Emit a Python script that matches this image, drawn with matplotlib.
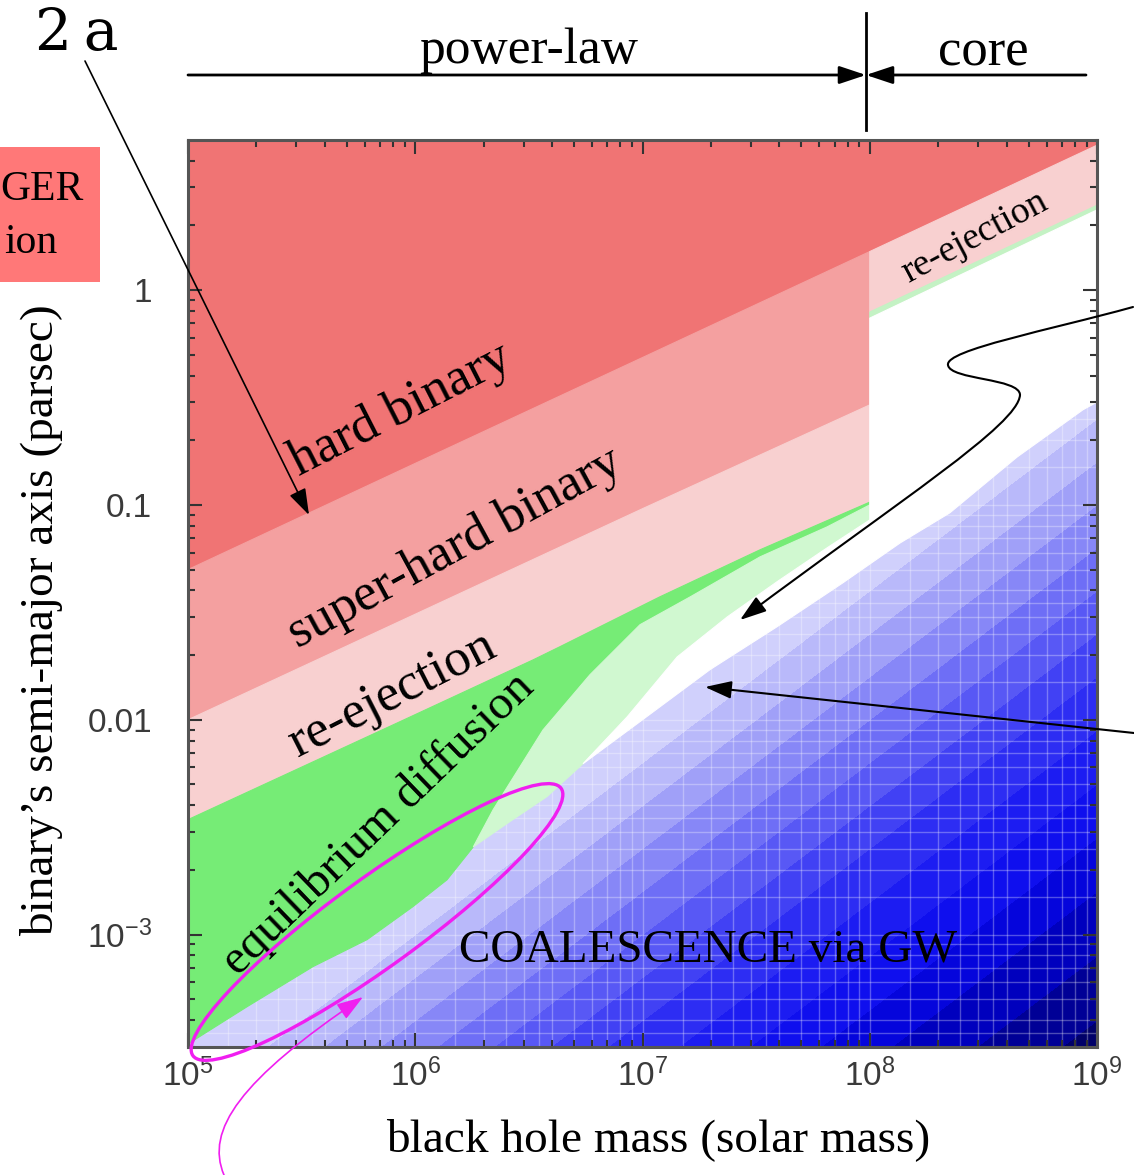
import numpy as np
import matplotlib
matplotlib.use('Agg')
import matplotlib.pyplot as plt
from matplotlib.patches import Ellipse, Rectangle, FancyArrowPatch
from matplotlib.path import Path
from matplotlib.ticker import FixedLocator, FixedFormatter, LogLocator, NullFormatter

plt.rcParams['mathtext.fontset'] = 'custom'
plt.rcParams['mathtext.rm'] = 'Liberation Sans'

# region boundaries (black hole mass in Msun, separation in pc)
hard_m = [1e5, 1e6, 1e7, 1e8, 1e9]
hard_a = [0.050, 0.156, 0.485, 1.51, 4.72]

superhard_m = [1e5, 1e6, 1e7, 1e8]
superhard_a = [0.0100, 0.031, 0.096, 0.292]

reej_m = [1e5, 8.57e5, 3.30e6, 4.34e6, 1.19e7, 3.29e7, 1e8]
reej_a = [0.00343, 0.0098, 0.0190, 0.0219, 0.0373, 0.0618, 0.103]

equil_m = [1e5, 1.82e5, 3.55e5, 6.14e5, 9.77e5, 1.38e6, 1.80e6, 2.20e6,
           2.61e6, 3.65e6, 5.87e6, 9.75e6, 1.62e7, 3.29e7, 6.49e7, 1e8]
equil_a = [0.00031, 0.000462, 0.000710, 0.000948, 0.00135, 0.00180, 0.00256, 0.00381,
           0.00509, 0.00897, 0.0162, 0.0277, 0.0373, 0.0573, 0.079, 0.100]

pale_m = [1.80e6, 2.61e6, 3.80e6, 5.47e6, 8.55e6, 1.42e7, 2.36e7, 3.91e7, 6.49e7, 1e8]
pale_a = [0.00256, 0.00336, 0.00439, 0.00624, 0.0103, 0.0196, 0.0301, 0.0439, 0.0631, 0.0851]

gw_m = [5.47e6, 1.0e7, 1.98e7, 3.91e7, 7.62e7, 1.36e8, 2.25e8, 4.45e8, 8.67e8, 1e9]
gw_a = [0.00624, 0.0100, 0.0171, 0.0271, 0.0434, 0.0665, 0.0918, 0.167, 0.277, 0.301]

core_m = [1e8, 1e9]
core_reej_a = [0.79, 2.48]
core_strip_a = [0.74, 2.36]

# coalescence-time shading (log a - slope * log M)
blue_slope = 0.8
blue_levels = [-11.0, -10.6, -10.3, -10.0, -9.75, -9.5, -9.25, -9.0, -8.8,
               -8.6, -8.4, -8.2, -8.0, -7.8, 0.0]
blue_colors = ['#000069', '#000096', '#0000be', '#0505dc', '#0f0fee', '#1c1cf2',
               '#2d2df3', '#4141f4', '#5858f5', '#6e6ef6', '#8787f7', '#a0a0f8',
               '#b9b9fa', '#d0d0fc']

x_ticks = [1e5, 1e6, 1e7, 1e8, 1e9]
x_labels = ['$\\mathregular{10^{5}}$', '$\\mathregular{10^{6}}$', '$\\mathregular{10^{7}}$',
            '$\\mathregular{10^{8}}$', '$\\mathregular{10^{9}}$']
y_ticks = [1e-3, 1e-2, 0.1, 1]
y_labels = ['$\\mathregular{10^{-3}}$', '0.01', '0.1', '1']

c_hard = '#f07474'
c_super = '#f4a0a0'
c_reej = '#f8d0d0'
c_green = '#76ec76'
c_pale = '#d0f8d0'
serif = 'Liberation Serif'

fig = plt.figure(figsize=(11.34, 11.75), dpi=100)
ax = fig.add_axes([188/1134, 1-1047/1175, 909/1134, 907/1175])
ax.set_xscale('log')
ax.set_yscale('log')

mm, aa = np.meshgrid(np.logspace(5, 9, 400), np.logspace(-3.6, 0.8, 400))
zz = np.log10(aa) - blue_slope*np.log10(mm)
ax.contourf(mm, aa, zz, levels=blue_levels, colors=blue_colors, zorder=0)

# faint white grid that shows through in the blue part
for k in range(5, 9):
    for d in (1, 1.5, 2, 2.5, 3, 3.5, 4, 5, 6, 7, 8, 9):
        ax.axvline(d*10**k, color='white', lw=1, alpha=0.3, zorder=0.5)
for k in range(-4, 1):
    for d in (1, 1.5, 2, 2.5, 3, 3.5, 4, 5, 6, 7, 8, 9):
        ax.axhline(d*10**k, color='white', lw=1, alpha=0.3, zorder=0.5)

def region(xs, ys, c):
    ax.fill(xs, ys, color=c, lw=0.8, ec=c, zorder=1)

ax.fill_between(hard_m, hard_a, 10, color=c_hard, lw=0.8, ec=c_hard, zorder=1)
region(hard_m[:4] + superhard_m[::-1], hard_a[:4] + superhard_a[::-1], c_super)
region(superhard_m + reej_m[::-1], superhard_a + reej_a[::-1], c_reej)
region(hard_m[3:] + core_m[::-1], hard_a[3:] + core_reej_a[::-1], c_reej)
region(core_m + core_m[::-1], core_reej_a + core_strip_a[::-1], '#c4f2c4')
region(reej_m + equil_m[::-1], reej_a + equil_a[::-1], c_green)
region(equil_m[6:] + pale_m[::-1], equil_a[6:] + pale_a[::-1], c_pale)
region(pale_m[3:] + core_m + gw_m[::-1], pale_a[3:] + core_strip_a + gw_a[::-1], 'white')

ax.set_xlim(1e5, 1e9)
ax.set_ylim(3.0e-4, 4.99)

ax.xaxis.set_major_locator(FixedLocator(x_ticks))
ax.xaxis.set_major_formatter(FixedFormatter(x_labels))
ax.yaxis.set_major_locator(FixedLocator(y_ticks))
ax.yaxis.set_major_formatter(FixedFormatter(y_labels))
ax.xaxis.set_minor_locator(LogLocator(base=10, subs=np.arange(2, 10)))
ax.yaxis.set_minor_locator(LogLocator(base=10, subs=np.arange(2, 10)))
ax.xaxis.set_minor_formatter(NullFormatter())
ax.yaxis.set_minor_formatter(NullFormatter())
ax.tick_params(which='both', direction='in', top=True, right=True, color='#333333', width=1.5)
ax.tick_params(which='major', length=10)
ax.tick_params(which='minor', length=5)
ax.tick_params(axis='x', pad=8, labelsize=24, labelcolor='#3a3a3a')
ax.tick_params(axis='y', pad=26, labelsize=24, labelcolor='#3a3a3a')
for lab in ax.get_xticklabels() + ax.get_yticklabels():
    lab.set_family('Liberation Sans')
for s in ax.spines.values():
    s.set_color('#555555')
    s.set_linewidth(2.2)
    s.set_zorder(4)

ax.set_xlabel('black hole mass (solar mass)', family=serif, size=34, va='center')
ax.xaxis.set_label_coords(0.517, -0.1025)
ax.set_ylabel('binary\u2019s semi-major axis (parsec)', family=serif, size=34, va='center')
ax.yaxis.set_label_coords(-0.1606, 0.4708)

# region names
ax.text(8.6e5, 0.277, 'hard binary', family=serif, size=38, rotation=27,
        ha='center', va='center', zorder=3)
ax.text(1.5e6, 0.063, 'super-hard binary', family=serif, size=38, rotation=28.5,
        ha='center', va='center', zorder=3)
ax.text(7.9e5, 0.0131, 're-ejection', family=serif, size=38, rotation=27,
        ha='center', va='center', zorder=3)
ax.text(6.9e5, 0.00325, 'equilibrium diffusion', family=serif, size=35, rotation=44,
        ha='center', va='center', zorder=3)
ax.text(2.9e8, 1.77, 're-ejection', family=serif, size=27, rotation=28,
        ha='center', va='center', zorder=3)
ax.text(1.94e7, 8.5e-4, 'COALESCENCE via GW', family=serif, size=34,
        ha='center', va='center', zorder=3)

# annotation layer in pixel units
ov = fig.add_axes([0, 0, 1, 1], zorder=10)
ov.set_xlim(0, 1134)
ov.set_ylim(1175, 0)
ov.axis('off')

ov.add_patch(Rectangle((0, 147), 100, 135, fc='#ff7878', ec='none'))
ov.text(84, 200, 'GER', family=serif, size=30, ha='right', va='baseline')
ov.text(57, 253, 'ion', family=serif, size=30, ha='right', va='baseline')

ov.text(35, 50, '2\u2009a', family='DejaVu Serif', size=42, ha='left', va='baseline')
head = '-|>,head_length=0.6,head_width=0.2'
ov.annotate('', xy=(309, 515), xytext=(85, 61),
            arrowprops=dict(arrowstyle=head, lw=1.2, color='k', shrinkA=0, shrinkB=0,
                            mutation_scale=27))

ov.plot([866, 866], [13, 130], color='k', lw=2)
ov.annotate('', xy=(866, 75), xytext=(188, 75),
            arrowprops=dict(arrowstyle=head, lw=2, color='k', shrinkA=0, shrinkB=0,
                            mutation_scale=27))
ov.annotate('', xy=(866, 75), xytext=(1086, 75),
            arrowprops=dict(arrowstyle=head, lw=2, color='k', shrinkA=0, shrinkB=0,
                            mutation_scale=27))
ov.text(529, 63, 'power-law', family=serif, size=37, ha='center', va='baseline')
ov.text(983, 65, 'core', family=serif, size=38, ha='center', va='baseline')

C = Path.CURVE4
s_path = Path([(1133, 307), (1050, 330), (945, 350), (948, 365),
               (950, 380), (1020, 378), (1020, 395),
               (1018, 425), (900, 500), (740, 620)],
              [Path.MOVETO, C, C, C, C, C, C, C, C, C])
ov.add_patch(FancyArrowPatch(path=s_path, arrowstyle=head, lw=1.5, color='k',
                             mutation_scale=27))
ov.annotate('', xy=(705, 687), xytext=(1134, 733),
            arrowprops=dict(arrowstyle=head, lw=1.5, color='k', shrinkA=0, shrinkB=0,
                            mutation_scale=27))

ov.add_patch(Ellipse((377, 922), 455, 88, angle=-36, fill=False, ec='#f01ef0', lw=2.4))
m_path = Path([(224, 1175), (205, 1130), (240, 1080), (363, 997)],
              [Path.MOVETO, C, C, C])
ov.add_patch(FancyArrowPatch(path=m_path, arrowstyle=head, lw=1.2, color='#f01ef0',
                             mutation_scale=27))

fig.savefig('out.png', dpi=100)
